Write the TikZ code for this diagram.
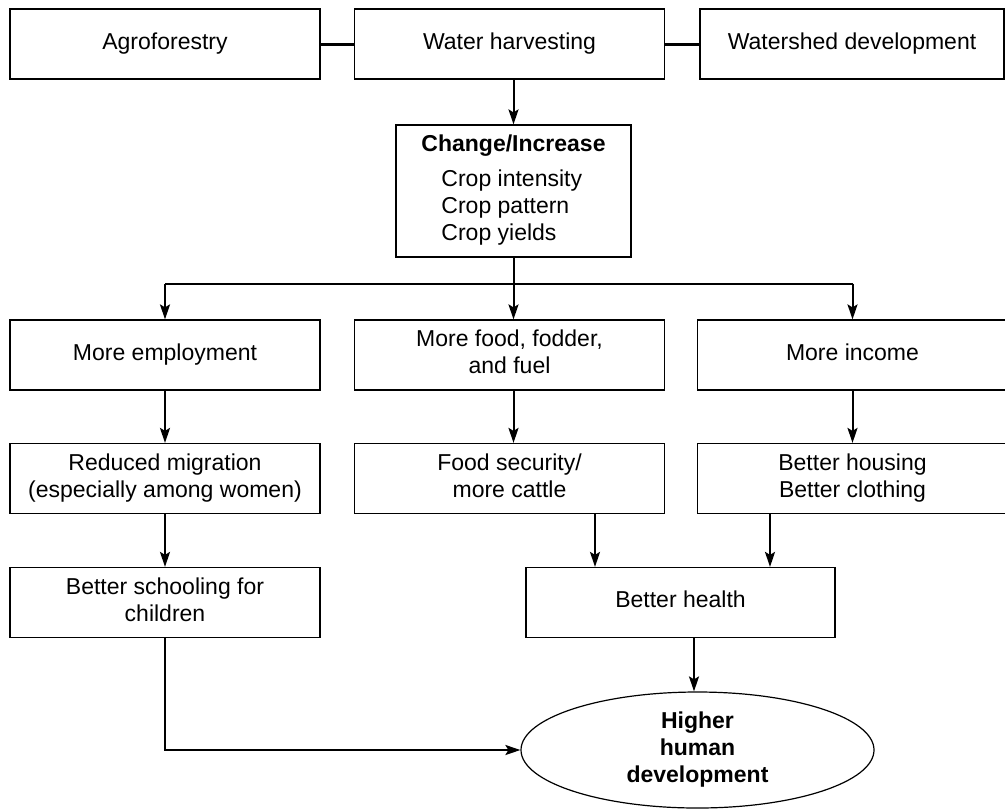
\documentclass[tikz,border=0pt]{standalone}
\usepackage{fontspec}
\setmainfont{Liberation Sans}
\usetikzlibrary{arrows.meta,shapes.geometric}
\newcommand\bxstrut{\rule[-3.2pt]{0pt}{11.4pt}}
\begin{document}
\begin{tikzpicture}[x=0.5pt,y=-0.5pt,
  font=\fontsize{11.5}{13.5}\selectfont,
  box/.style={draw, line width=0.6pt, inner sep=0pt, align=center, minimum height=35pt,
    execute at begin node=\bxstrut, execute at end node=\bxstrut},
  wbox/.style={box, minimum width=155pt},
  conn/.style={line width=1pt},
  topconn/.style={line width=1.5pt},
  arr/.style={line width=1pt, -{Stealth[length=7.5pt,width=5pt,inset=1.5pt]}},
  oval/.style={draw, line width=0.6pt, ellipse, inner sep=0pt, minimum width=176.5pt, minimum height=58pt, align=center, font=\fontsize{11.5}{13.5}\selectfont\bfseries}
]
\useasboundingbox (0,0) rectangle (1005,809);
% top row
\node[wbox] (agro) at (165,44) {Agroforestry};
\node[wbox] (wh) at (509.5,44) {Water harvesting};
\node[box, minimum width=152pt] (ws) at (852,44) {Watershed development};
\draw[topconn] (agro.east) -- (wh.west);
\draw[topconn] (wh.east) -- (ws.west);
% change box
\node[draw, line width=0.6pt, inner sep=0pt, minimum width=117.5pt, minimum height=66pt] (change) at (513.5,191)
  {\begin{tabular}{@{}l@{}}\multicolumn{1}{@{}c@{}}{\bfseries Change/Increase}\\[4pt]
   \hspace{10pt}Crop intensity\\ \hspace{10pt}Crop pattern\\ \hspace{10pt}Crop yields\end{tabular}};
\draw[arr] (wh.south -| change.north) -- (change.north);
% row 2
\node[wbox] (emp) at (165,355) {More employment};
\node[wbox] (food) at (509.5,355) {More food, fodder,\bxstrut\\\bxstrut and fuel};
\node[wbox] (inc) at (852.5,355) {More income};
\draw[conn] (change.south) -- ++(0,26) coordinate (br);
\draw[conn] (br -| emp.north) -- (br -| inc.north);
\draw[arr] (br -| emp.north) -- (emp.north);
\draw[arr] (br -| change.south) -- (change.south |- food.north);
\draw[arr] (br -| inc.north) -- (inc.north);
% row 3
\node[wbox] (mig) at (165,478.5) {Reduced migration\bxstrut\\\bxstrut(especially among women)};
\node[wbox] (sec) at (509.5,478.5) {Food security/\bxstrut\\\bxstrut more cattle};
\node[wbox] (hous) at (852.5,478.5) {Better housing\bxstrut\\\bxstrut Better clothing};
\draw[arr] (emp.south) -- (mig.north);
\draw[arr] (change.south |- food.south) -- (change.south |- sec.north);
\draw[arr] (inc.south) -- (hous.north);
% row 4
\node[wbox] (school) at (165,602.5) {Better schooling for\bxstrut\\\bxstrut children};
\node[box, minimum width=154.5pt] (health) at (680.5,602.5) {Better health};
\draw[arr] (mig.south) -- (school.north);
\path ([xshift=42.75pt]sec.south) coordinate (s1);
\draw[arr] (s1) -- (s1 |- health.north);
\path ([xshift=-41.25pt]hous.south) coordinate (s2);
\draw[arr] (s2) -- (s2 |- health.north);
% final
\node[oval] (hhd) at (697.5,750) {Higher\\human\\development};
\draw[arr] ([xshift=-1.75pt]hhd.north |- health.south) -- ([xshift=-1.75pt]hhd.north);
\draw[arr] (school.south) |- (hhd.west);
\end{tikzpicture}
\end{document}
